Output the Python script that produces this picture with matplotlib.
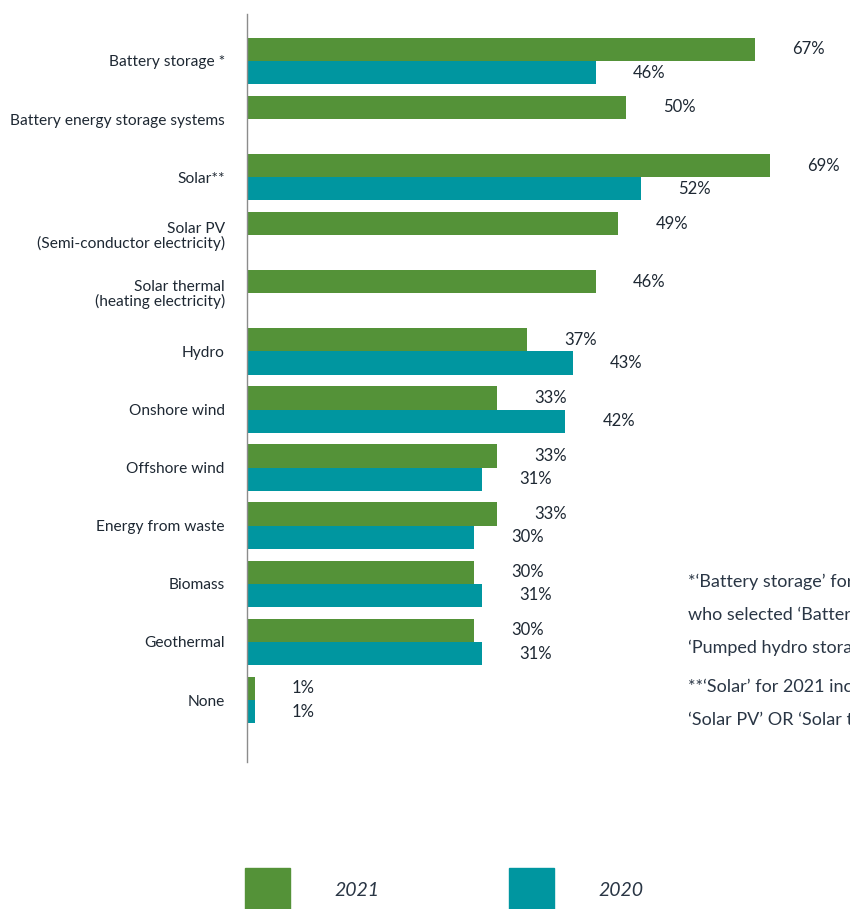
import matplotlib
matplotlib.use("Agg")
import matplotlib.pyplot as plt
import numpy as np

plt.rcParams['font.family'] = ['Lato', 'DejaVu Sans']

categories = ['Battery storage *', 'Battery energy storage systems', 'Solar**',
              'Solar PV\n(Semi-conductor electricity)',
              'Solar thermal\n(heating electricity)', 'Hydro', 'Onshore wind',
              'Offshore wind', 'Energy from waste', 'Biomass', 'Geothermal', 'None']
vals_2021 = [67, 50, 69, 49, 46, 37, 33, 33, 33, 30, 30, 1]
vals_2020 = [46, None, 52, None, None, 43, 42, 31, 30, 31, 31, 1]

green = '#549238'
teal = '#0096a0'
txt = '#1e2833'

fig = plt.figure(figsize=(8.5, 9.09), dpi=100)
W, H = 850, 909
ax = fig.add_axes([247 / W, 1 - 762 / H, 603 / W, (762 - 14) / H])

y = np.arange(len(categories))
bh = 0.4
ax.barh(y - bh / 2, vals_2021, height=bh, color=green)
for i, v in enumerate(vals_2020):
    if v is not None:
        ax.barh(i + bh / 2, v, height=bh, color=teal)

for i, v in enumerate(vals_2021):
    ax.text(v + 4.9, i - bh / 2, f'{v}%', va='center', ha='left', fontsize=12, color=txt)
for i, v in enumerate(vals_2020):
    if v is not None:
        ax.text(v + 4.9, i + bh / 2, f'{v}%', va='center', ha='left', fontsize=12, color=txt)

ax.set_xlim(0, 603 / 7.58)
ax.set_ylim(11 + 62 / 58.1, -47 / 58.1)
ax.set_yticks(y)
ax.set_yticklabels(categories, fontsize=11.2, color=txt, linespacing=1.0)
ax.tick_params(axis='y', length=0, pad=16)
ax.set_xticks([])
for s in ['top', 'right', 'bottom']:
    ax.spines[s].set_visible(False)
ax.spines['left'].set_color('#8c8c8c')
ax.spines['left'].set_linewidth(1.0)

# footnotes (run off the right edge as in the original)
notes = [(582, "*‘Battery storage’ for 2020 includes those"),
         (615, "who selected ‘Battery energy storage systems’ OR"),
         (648, "‘Pumped hydro storage’"),
         (687, "**‘Solar’ for 2021 includes those who selected"),
         (720, "‘Solar PV’ OR ‘Solar thermal’")]
for yy, t in notes:
    fig.text(688 / W, 1 - yy / H, t, fontsize=13, color='#2a3645', va='center', ha='left')

# legend
fig.patches.append(plt.Rectangle((245 / W, 0), 45 / W, 41 / H, color=green,
                                 transform=fig.transFigure, figure=fig))
fig.patches.append(plt.Rectangle((509 / W, 0), 45 / W, 41 / H, color=teal,
                                 transform=fig.transFigure, figure=fig))
fig.text(334 / W, 1 - 891 / H, '2021', fontsize=14, style='italic', color='#2a3645', va='center')
fig.text(598 / W, 1 - 891 / H, '2020', fontsize=14, style='italic', color='#2a3645', va='center')

fig.savefig('out.png', dpi=100)
